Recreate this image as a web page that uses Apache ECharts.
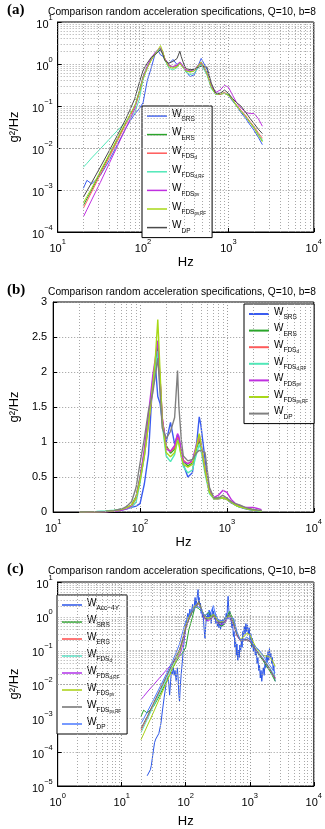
<!DOCTYPE html>
<html><head><meta charset="utf-8">
<script src="https://cdn.jsdelivr.net/npm/echarts@6/dist/echarts.min.js"></script>
<style>html,body{margin:0;padding:0;background:#fff}#c{width:325px;height:829px}</style>
</head><body><div id="c"></div>
<script>
// ---------------- data ----------------
const freq = [20, 22, 25, 31.5, 40, 50, 63, 71, 80, 90, 100, 112, 125, 140, 150, 160, 170, 180, 200, 224, 250, 270, 280, 300, 315, 355, 400, 450, 480, 500, 560, 630, 710, 800, 900, 1000, 1120, 1250, 1400, 1600, 1800, 2000, 2240, 2500];
const wSRS = [0.0011, 0.0017, 0.0014, 0.0022, 0.005, 0.012, 0.03, 0.045, 0.065, 0.085, 0.12, 0.4, 0.82, 1.9, 2.1, 1.65, 1.55, 1.3, 1.0, 1.28, 0.97, 1.1, 1.05, 0.85, 0.68, 0.5, 0.56, 1.0, 1.36, 1.25, 0.75, 0.3, 0.2, 0.2, 0.2, 0.18, 0.13, 0.1, 0.07, 0.05, 0.035, 0.026, 0.018, 0.012];
const wERS = [0.00043, 0.00062, 0.001, 0.0026, 0.0066, 0.016, 0.04, 0.063, 0.1, 0.22, 0.5, 0.85, 1.3, 1.8, 2.05, 2.4, 1.85, 1.3, 0.95, 0.84, 0.9, 1.06, 1.02, 0.82, 0.72, 0.66, 0.7, 0.92, 1.02, 0.95, 0.6, 0.28, 0.19, 0.19, 0.2, 0.19, 0.14, 0.1, 0.075, 0.055, 0.04, 0.03, 0.021, 0.015];
const wFDSd = [0.00037, 0.00054, 0.0009, 0.0023, 0.0059, 0.0145, 0.037, 0.059, 0.095, 0.2, 0.45, 0.8, 1.25, 1.75, 2.0, 2.25, 1.9, 1.35, 0.92, 0.86, 0.92, 1.07, 1.03, 0.85, 0.74, 0.69, 0.72, 0.95, 1.05, 0.98, 0.62, 0.3, 0.2, 0.19, 0.21, 0.18, 0.14, 0.105, 0.08, 0.058, 0.042, 0.032, 0.023, 0.017];
const wFDSdRF = [0.0035, 0.0043, 0.0058, 0.0095, 0.016, 0.026, 0.042, 0.054, 0.07, 0.14, 0.42, 0.8, 1.3, 1.8, 2.05, 2.3, 1.8, 1.25, 0.8, 0.72, 0.82, 1.03, 0.98, 0.78, 0.65, 0.56, 0.6, 0.85, 0.96, 0.9, 0.55, 0.26, 0.19, 0.2, 0.2, 0.18, 0.14, 0.1, 0.075, 0.055, 0.04, 0.03, 0.021, 0.015];
const wFDSpv = [0.00023, 0.00034, 0.00058, 0.0015, 0.0042, 0.011, 0.03, 0.05, 0.085, 0.2, 0.48, 0.9, 1.4, 1.95, 2.2, 2.45, 1.9, 1.35, 0.9, 0.87, 0.95, 1.12, 1.08, 0.85, 0.72, 0.69, 0.74, 0.98, 1.1, 1.0, 0.6, 0.3, 0.21, 0.24, 0.31, 0.28, 0.18, 0.12, 0.09, 0.07, 0.066, 0.066, 0.05, 0.033];
const wFDSpvRF = [0.0005, 0.0007, 0.0011, 0.0028, 0.007, 0.017, 0.042, 0.065, 0.1, 0.2, 0.45, 0.8, 1.25, 1.8, 2.2, 2.75, 2.0, 1.3, 0.85, 0.79, 0.85, 1.02, 0.97, 0.78, 0.68, 0.64, 0.68, 0.95, 1.12, 1.0, 0.6, 0.28, 0.19, 0.2, 0.2, 0.18, 0.14, 0.1, 0.075, 0.055, 0.04, 0.03, 0.02, 0.014];
const wDP = [0.00068, 0.00095, 0.0015, 0.0035, 0.0085, 0.02, 0.05, 0.085, 0.15, 0.35, 0.7, 1.05, 1.45, 1.7, 1.95, 2.2, 1.7, 1.2, 1.05, 1.15, 1.35, 2.02, 1.5, 1.0, 0.8, 0.73, 0.75, 0.85, 0.88, 0.9, 0.85, 0.35, 0.2, 0.2, 0.24, 0.2, 0.15, 0.12, 0.1, 0.07, 0.05, 0.038, 0.028, 0.022];
// measured PSD W_Acc-4Y (panel c): [Hz, g^2/Hz]
const accPsd = [
  [25, 0.00002], [26.5, 0.00002], [28, 0.00003], [29, 0.00004], [31, 0.0001], [32.6, 0.00019], [34, 0.00024], [36, 0.00026], [38, 0.00035], [41, 0.0007],
  [43, 0.0015], [46, 0.004], [49, 0.009], [52, 0.0155], [54, 0.012], [56, 0.0047], [58, 0.012], [60, 0.025], [62, 0.02], [64, 0.03],
  [66, 0.018], [68, 0.025], [71, 0.012], [74, 0.03], [76, 0.015], [78, 0.005], [80, 0.003], [82, 0.008], [85, 0.02], [88, 0.04],
  [92, 0.11], [96, 0.25], [100, 0.5], [104, 0.8], [108, 1.2], [112, 0.9], [116, 1.6], [120, 1.0], [124, 1.5], [128, 2.2],
  [132, 1.3], [136, 2.0], [140, 3.5], [144, 2.0], [148, 2.8], [152, 4.0], [156, 6.0], [159, 2.5], [162, 3.5], [166, 1.8],
  [170, 2.4], [174, 1.2], [178, 1.6], [182, 0.9], [186, 1.3], [190, 0.7], [195, 0.35], [200, 0.22], [205, 0.5], [210, 1.0],
  [215, 0.7], [220, 1.2], [226, 0.8], [232, 1.5], [238, 0.9], [244, 1.3], [250, 0.6], [256, 1.0], [262, 1.7], [268, 1.1],
  [274, 1.4], [280, 0.8], [288, 1.1], [296, 0.6], [304, 0.9], [312, 0.5], [320, 0.8], [330, 0.45], [340, 0.7], [350, 0.4],
  [360, 0.65], [370, 0.5], [380, 0.8], [392, 0.55], [404, 0.9], [416, 0.7], [428, 1.2], [440, 0.9], [450, 2.2], [459, 3.8],
  [468, 1.8], [478, 1.1], [490, 1.3], [500, 0.7], [512, 0.9], [525, 0.45], [540, 0.6], [555, 0.25], [570, 0.35], [585, 0.12],
  [600, 0.2], [615, 0.07], [630, 0.15], [650, 0.05], [668, 0.1], [685, 0.06], [700, 0.14], [720, 0.09], [740, 0.18], [760, 0.12],
  [780, 0.35], [800, 0.25], [820, 0.5], [845, 0.3], [870, 0.6], [895, 0.35], [920, 0.55], [950, 0.3], [980, 0.45], [1010, 0.2],
  [1040, 0.3], [1070, 0.12], [1100, 0.22], [1140, 0.09], [1180, 0.15], [1220, 0.07], [1260, 0.1], [1300, 0.04], [1340, 0.06], [1380, 0.025],
  [1420, 0.035], [1460, 0.015], [1500, 0.025], [1540, 0.012], [1580, 0.02], [1630, 0.03], [1680, 0.018], [1730, 0.045], [1780, 0.03], [1830, 0.07],
  [1880, 0.045], [1930, 0.09], [1980, 0.05], [2030, 0.11], [2080, 0.06], [2140, 0.08], [2200, 0.04], [2260, 0.06], [2320, 0.025], [2380, 0.035],
  [2440, 0.015], [2500, 0.012]
];

const specKeys = ['SRS', 'ERS', 'FDSd', 'FDSdRF', 'FDSpv', 'FDSpvRF', 'DP'];
const specData = { SRS: wSRS, ERS: wERS, FDSd: wFDSd, FDSdRF: wFDSdRF, FDSpv: wFDSpv, FDSpvRF: wFDSpvRF, DP: wDP };
const labels = {
  Acc: '{w|W}{s|Acc\u22124Y}', SRS: '{w|W}{s|SRS}', ERS: '{w|W}{s|ERS}',
  FDSd: '{w|W}{s|FDS}{t|d}', FDSdRF: '{w|W}{s|FDS}{t|d,RF}',
  FDSpv: '{w|W}{s|FDS}{t|pv}', FDSpvRF: '{w|W}{s|FDS}{t|pv,RF}', DP: '{w|W}{s|DP}'
};
const titleText = 'Comparison random acceleration specifications, Q=10, b=8';

// ---------------- styles ----------------
const colAB = { SRS: '#3a5cf0', ERS: '#2aa52a', FDSd: '#ff5a5a', FDSdRF: '#50e8b8', FDSpv: '#c030e0', FDSpvRF: '#a8d818', DP: '#4a4a4a' };
const colC = { Acc: '#2a55e8', SRS: '#2aa52a', ERS: '#ff4a4a', FDSd: '#50e8c8', FDSdRF: '#b030e8', FDSpv: '#a8d010', FDSpvRF: '#707070', DP: '#4a78ff' };

const grids = [
  { left: 49, top: 22, width: 267, height: 210 },
  { left: 49, top: 302, width: 267, height: 210 },
  { left: 49, top: 582, width: 267, height: 209 }
].map(g => Object.assign({ show: true, borderColor: '#000', borderWidth: 1, backgroundColor: '#fff' }, g));

const gridLine = { show: true, lineStyle: { color: '#9a9a9a', type: [1, 2], width: 1 } };
const supRich = {
  b: { fontSize: 11, fontFamily: 'Liberation Sans', color: '#000', lineHeight: 16, verticalAlign: 'bottom' },
  s: { fontSize: 7.5, fontFamily: 'Liberation Sans', color: '#000', lineHeight: 16, verticalAlign: 'top' }
};
function logFmt(v) {
  const e = Math.round(Math.log10(v));
  return '{b|10}{s|' + (e < 0 ? '\u2212' + (-e) : e) + '}';
}
function logAxis(idx, min, max, isX) {
  return {
    type: 'log', logBase: 10, min: min, max: max, gridIndex: idx,
    axisLine: { show: true, lineStyle: { color: '#000', width: 1 } },
    axisTick: { show: true, inside: true, length: 4, lineStyle: { color: '#000' } },
    axisLabel: { formatter: logFmt, rich: supRich, margin: isX ? 6 : 5 },
    splitLine: gridLine,
    name: isX ? 'Hz' : 'g\u00b2/Hz', nameLocation: 'middle', nameGap: isX ? (idx === 2 ? 29 : 24) : 34,
    nameTextStyle: { fontSize: 13, fontFamily: 'Liberation Sans', color: '#000' }
  };
}
const xAxes = [logAxis(0, 10, 10000, true), logAxis(1, 10, 10000, true), logAxis(2, 1, 10000, true)];
const yB = {
  type: 'value', min: 0, max: 3, interval: 0.5, gridIndex: 1,
  axisLine: { show: true, lineStyle: { color: '#000' } },
  axisTick: { show: true, inside: true, length: 4, lineStyle: { color: '#000' } },
  axisLabel: { fontSize: 11, fontFamily: 'Liberation Sans', color: '#000', margin: 6 },
  splitLine: gridLine,
  name: 'g\u00b2/Hz', nameLocation: 'middle', nameGap: 32,
  nameTextStyle: { fontSize: 13, fontFamily: 'Liberation Sans', color: '#000' }
};
const yAxes = [Object.assign(logAxis(0, 0.0001, 10, false), { splitNumber: 5 }), yB, Object.assign(logAxis(2, 0.00001, 10, false), { splitNumber: 6 })];

function minorVals(lo, hi) {
  const out = [];
  for (let e = lo; e < hi; e++) for (let k = 2; k <= 9; k++) out.push(k * Math.pow(10, e));
  return out;
}
function helper(idx, xs, ys) {
  return {
    type: 'line', xAxisIndex: idx, yAxisIndex: idx, data: [], silent: true, animation: false,
    markLine: {
      silent: true, symbol: 'none', animation: false, label: { show: false },
      lineStyle: { color: '#a8a8a8', type: [1, 2], width: 1 },
      data: xs.map(v => ({ xAxis: v })).concat(ys.map(v => ({ yAxis: v })))
    }
  };
}

const series = [
  helper(0, minorVals(1, 4), minorVals(-4, 1)),
  helper(1, minorVals(1, 4), []),
  helper(2, minorVals(0, 4), minorVals(-5, 1))
];
function lineSeries(name, idx, data, color, width) {
  return {
    name: name, type: 'line', xAxisIndex: idx, yAxisIndex: idx, symbol: 'none', animation: false,
    lineStyle: { color: color, width: width }, itemStyle: { color: color }, data: data
  };
}
const pairs = arr => freq.map((f, i) => [f, arr[i]]);
specKeys.forEach(k => series.push(lineSeries('a_' + k, 0, pairs(specData[k]), colAB[k], 1)));
specKeys.forEach(k => series.push(lineSeries('b_' + k, 1, pairs(specData[k]), k === 'DP' ? '#808080' : colAB[k], 1.4)));
series.push(lineSeries('c_Acc', 2, accPsd, colC.Acc, 1));
specKeys.forEach(k => series.push(lineSeries('c_' + k, 2, pairs(specData[k]), colC[k], 1)));

const legRich = {
  w: { fontSize: 10, fontFamily: 'Liberation Sans', color: '#000', lineHeight: 14, verticalAlign: 'top' },
  s: { fontSize: 6.5, fontFamily: 'Liberation Sans', color: '#000', lineHeight: 14, verticalAlign: 'bottom' },
  t: { fontSize: 4.5, fontFamily: 'Liberation Sans', color: '#000', lineHeight: 12, verticalAlign: 'bottom' }
};
function legend(prefix, keys, pos, gap, lw) {
  return Object.assign({
    orient: 'vertical', data: keys.map(k => prefix + k), icon: 'rect', itemWidth: 20, itemHeight: lw, itemGap: gap,
    backgroundColor: '#fff', borderColor: '#000', borderWidth: 1, padding: [3, 6, 3, 5], selectedMode: false,
    formatter: n => labels[n.slice(2)], textStyle: { rich: legRich, padding: [0, 0, 0, 0] }
  }, pos);
}

const graphic = [];
[12, 292, 571].forEach((y, i) => {
  graphic.push({ type: 'text', left: 7, top: y - 9, style: { text: '(' + 'abc'[i] + ')', font: 'bold 15px "Liberation Serif"', fill: '#000' } });
  graphic.push({ type: 'text', x: 182, y: y, style: { text: titleText, font: '10.2px "Liberation Sans"', fill: '#000', textAlign: 'center', textVerticalAlign: 'middle' } });
});

const chart = echarts.init(document.getElementById('c'), null, { renderer: 'canvas' });
chart.setOption({
  animation: false,
  backgroundColor: '#fff',
  grid: grids,
  xAxis: xAxes,
  yAxis: yAxes,
  legend: [
    legend('a_', specKeys, { left: 142, top: 106 }, 4.6, 1.5),
    legend('b_', specKeys, { left: 244, top: 304 }, 2.6, 2),
    legend('c_', ['Acc'].concat(specKeys), { left: 57, top: 595 }, 3.0, 1.5)
  ],
  graphic: graphic,
  series: series
});
</script>
</body></html>
